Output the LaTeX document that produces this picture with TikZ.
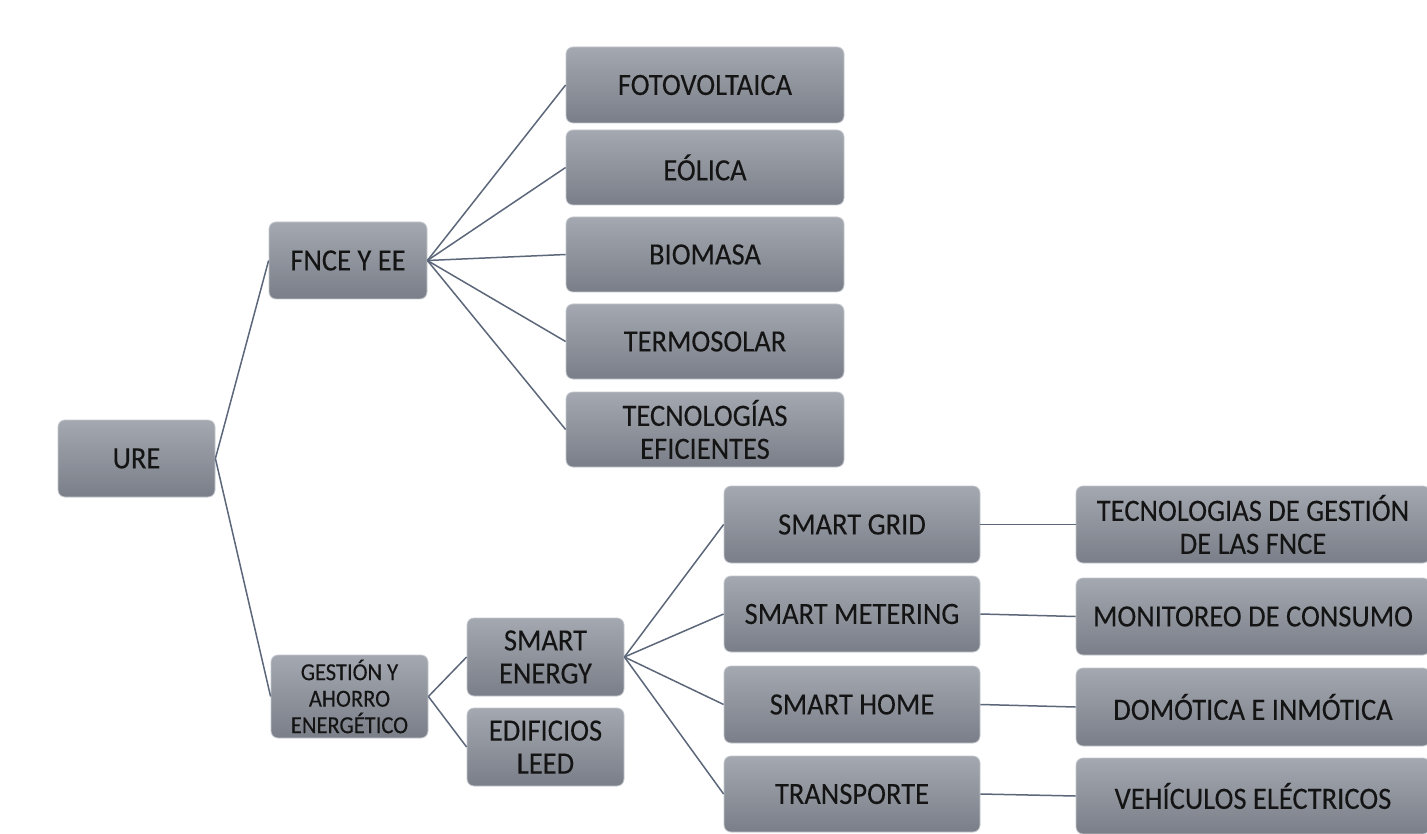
\documentclass[tikz,border=0pt]{standalone}
\usepackage{fontspec}
\setmainfont{Carlito}[FakeStretch=0.92,FakeBold=0.15]
\definecolor{boxtop}{RGB}{164,168,176}
\definecolor{boxbot}{RGB}{121,126,136}
\definecolor{boxrim}{RGB}{196,199,205}
\definecolor{wire}{RGB}{92,103,121}
\tikzset{
  box/.style={rounded corners=7pt, top color=boxtop, bottom color=boxbot,
    draw=boxrim, line width=0.8pt, inner sep=0pt, align=center,
    font=\fontsize{31}{33}\selectfont, text=black!92},
  link/.style={draw=wire, line width=1.5pt}
}
\begin{document}
\begin{tikzpicture}[x=1pt,y=-1pt]
\useasboundingbox (0,0) rectangle (1427,834);
\clip (0,0) rectangle (1427,834);
\fill[white] (0,0) rectangle (1427,834);

% root and first level
\node[box, minimum width=157, minimum height=77] (ure) at (136.5,458.5) {URE};
\node[box, minimum width=158, minimum height=77] (fnce) at (348,260.5) {FNCE Y EE};
\node[box, minimum width=157, minimum height=83, font=\fontsize{24.5}{26.5}\selectfont] (gest) at (349.5,696.5) {GESTIÓN Y\\AHORRO\\ENERGÉTICO};

% energy sources
\node[box, minimum width=278, minimum height=76] (foto) at (705,85) {FOTOVOLTAICA};
\node[box, minimum width=278, minimum height=75] (eol) at (705,167.5) {EÓLICA};
\node[box, minimum width=278, minimum height=75] (bio) at (705,254.5) {BIOMASA};
\node[box, minimum width=278, minimum height=75] (termo) at (705,341.5) {TERMOSOLAR};
\node[box, minimum width=278, minimum height=75] (tec) at (705,429.5) {TECNOLOGÍAS\\EFICIENTES};

% management branch
\node[box, minimum width=157, minimum height=78] (se) at (545.5,657) {SMART\\ENERGY};
\node[box, minimum width=157, minimum height=78] (ed) at (545.5,747) {EDIFICIOS\\LEED};

\node[box, minimum width=256, minimum height=77] (sg) at (852,524.5) {SMART GRID};
\node[box, minimum width=256, minimum height=76] (sm) at (852,614) {SMART METERING};
\node[box, minimum width=256, minimum height=77] (sh) at (852,704.5) {SMART HOME};
\node[box, minimum width=256, minimum height=76] (tr) at (852,794) {TRANSPORTE};

\node[box, minimum width=354, minimum height=77] (tg) at (1253,524.5) {TECNOLOGIAS DE GESTIÓN\\DE LAS FNCE};
\node[box, minimum width=354, minimum height=77] (mo) at (1253,616.5) {MONITOREO DE CONSUMO};
\node[box, minimum width=354, minimum height=78] (do) at (1253,707) {DOMÓTICA E INMÓTICA};
\node[box, minimum width=354, minimum height=76] (ve) at (1253,796) {VEHÍCULOS ELÉCTRICOS};

% connectors
\draw[link] (ure.east) -- (fnce.west);
\draw[link] (ure.east) -- (gest.west);
\foreach \t in {foto,eol,bio,termo,tec}
  \draw[link] (fnce.east) -- (\t.west);
\draw[link] (gest.east) -- (se.west);
\draw[link] (gest.east) -- (ed.west);
\foreach \t in {sg,sm,sh,tr}
  \draw[link] (se.east) -- (\t.west);
\draw[link] (sg.east) -- (tg.west);
\draw[link] (sm.east) -- (mo.west);
\draw[link] (sh.east) -- (do.west);
\draw[link] (tr.east) -- (ve.west);
\end{tikzpicture}
\end{document}
